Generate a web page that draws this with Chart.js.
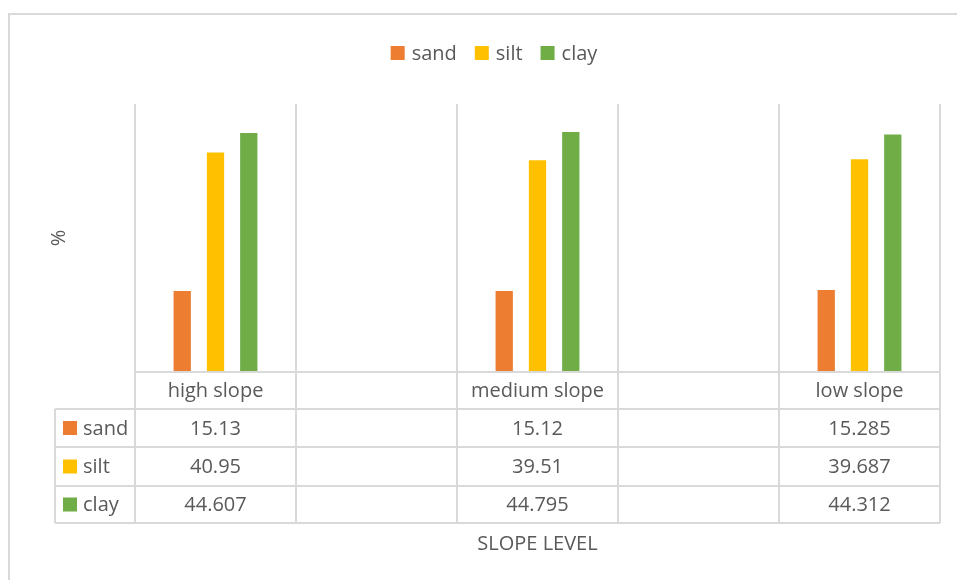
<!DOCTYPE html>
<html>
<head>
<meta charset="utf-8">
<script src="https://cdn.jsdelivr.net/npm/chart.js@4/dist/chart.umd.min.js"></script>
<style>
    html, body { margin: 0; padding: 0; background: #fff; overflow: hidden; }
    #frame {
        position: absolute; left: 8px; top: 13px; width: 1000px; height: 700px;
        border-left: 2px solid #d9d9d9; border-top: 2px solid #d9d9d9;
    }
    #wrap { position: absolute; left: 0; top: 0; width: 957px; height: 580px; }
</style>
</head>
<body>
<div id="frame"></div>
<div id="wrap"><canvas id="chart"></canvas></div>
<script>
// chart data
const categories = ['high slope', '', 'medium slope', '', 'low slope'];
const sand = [15.13, null, 15.12, null, 15.285];
const silt = [40.95, null, 39.51, null, 39.687];
const clay = [44.607, null, 44.795, null, 44.312];
const seriesNames = ['sand', 'silt', 'clay'];
const seriesColors = ['#ED7D31', '#FFC000', '#70AD47'];

const xTitle = 'SLOPE LEVEL';
const yTitle = '%';

const textColor = '#595959';
const lineColor = '#d9d9d9';
const fontFamily = '"Open Sans", "Liberation Sans", sans-serif';

// draws the legend, axis titles and the data table under the plot
const tablePlugin = {
    id: 'dataTable',
    afterDraw(chart) {
        const ctx = chart.ctx;
        const area = chart.chartArea;
        const x = chart.scales.x;
        const series = [sand, silt, clay];

        const half = (x.getPixelForValue(1) - x.getPixelForValue(0)) / 2;
        const centers = categories.map((c, i) => x.getPixelForValue(i));
        const edges = [centers[0] - half].concat(centers.map(c => c + half));

        const rows = [area.bottom, area.bottom + 37, area.bottom + 75, area.bottom + 114, area.bottom + 151];
        const keyLeft = 55;

        ctx.save();
        ctx.strokeStyle = lineColor;
        ctx.lineWidth = 2;

        // horizontal lines
        ctx.beginPath();
        ctx.moveTo(edges[0], rows[0]);
        ctx.lineTo(edges[edges.length - 1], rows[0]);
        for (let r = 1; r < rows.length; r++) {
            ctx.moveTo(keyLeft, rows[r]);
            ctx.lineTo(edges[edges.length - 1], rows[r]);
        }
        // vertical lines
        edges.forEach(e => {
            ctx.moveTo(e, rows[0]);
            ctx.lineTo(e, rows[rows.length - 1]);
        });
        ctx.moveTo(keyLeft, rows[1]);
        ctx.lineTo(keyLeft, rows[rows.length - 1]);
        ctx.stroke();

        ctx.font = '20px ' + fontFamily;
        ctx.fillStyle = textColor;
        ctx.textBaseline = 'middle';
        ctx.textAlign = 'center';

        // category row
        categories.forEach((c, i) => {
            ctx.fillText(c, centers[i], (rows[0] + rows[1]) / 2 + 1);
        });

        // value rows
        series.forEach((values, s) => {
            const cy = (rows[s + 1] + rows[s + 2]) / 2;
            ctx.textAlign = 'center';
            ctx.fillStyle = textColor;
            values.forEach((v, i) => {
                if (v !== null) ctx.fillText(String(v), centers[i], cy + 1);
            });
            ctx.fillStyle = seriesColors[s];
            ctx.fillRect(keyLeft + 8, cy - 7, 14, 14);
            ctx.fillStyle = textColor;
            ctx.textAlign = 'left';
            ctx.fillText(seriesNames[s], keyLeft + 28, cy + 1);
        });

        // legend at the top
        const widths = seriesNames.map(n => 14 + 7 + ctx.measureText(n).width);
        const gap = 18;
        const total = widths.reduce((a, b) => a + b, 0) + gap * (widths.length - 1);
        let lx = 494 - total / 2;
        const ly = 53;
        seriesNames.forEach((n, s) => {
            ctx.fillStyle = seriesColors[s];
            ctx.fillRect(lx, ly - 7, 14, 14);
            ctx.fillStyle = textColor;
            ctx.textAlign = 'left';
            ctx.fillText(n, lx + 21, ly + 1);
            lx += widths[s] + gap;
        });

        // axis titles
        ctx.textAlign = 'center';
        ctx.fillText(xTitle, (area.left + area.right) / 2, rows[rows.length - 1] + 21);

        ctx.translate(59, (area.top + area.bottom) / 2);
        ctx.rotate(-Math.PI / 2);
        ctx.fillText(yTitle, 0, 0);
        ctx.restore();
    }
};

new Chart(document.getElementById('chart'), {
    type: 'bar',
    data: {
        labels: categories,
        datasets: seriesNames.map((name, s) => ({
            label: name,
            data: [sand, silt, clay][s],
            backgroundColor: seriesColors[s],
            borderWidth: 0,
            categoryPercentage: 0.62,
            barPercentage: 0.52
        }))
    },
    options: {
        responsive: true,
        maintainAspectRatio: false,
        animation: false,
        layout: {
            padding: { left: 135, right: 17, top: 104, bottom: 208 }
        },
        plugins: {
            legend: { display: false },
            tooltip: { enabled: false }
        },
        scales: {
            x: {
                display: true,
                offset: true,
                grid: { offset: true, drawTicks: false, color: lineColor, lineWidth: 2 },
                border: { display: false },
                ticks: { display: false }
            },
            y: {
                display: false,
                min: 0,
                max: 50
            }
        }
    },
    plugins: [tablePlugin]
});
</script>
</body>
</html>
